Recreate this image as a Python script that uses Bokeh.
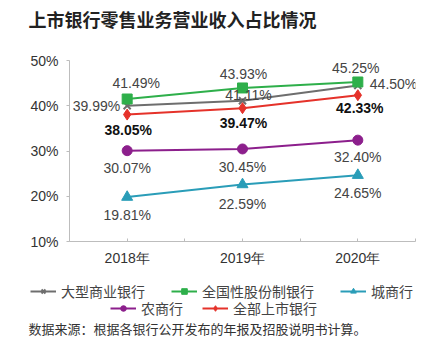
from bokeh.plotting import figure
from bokeh.models import (ColumnDataSource, Range1d, FixedTicker, Legend, LegendItem,
                          LabelSet, Label, Title)
from bokeh.core.properties import value
from bokeh.embed import file_html
from bokeh.resources import INLINE

years = ["2018年", "2019年", "2020年"]
big_banks = [39.99, 41.11, 44.50]
joint_stock = [41.49, 43.93, 45.25]
city_banks = [19.81, 22.59, 24.65]
rural_banks = [30.07, 30.45, 32.40]
all_listed = [38.05, 39.47, 42.33]
y_ticks = [10, 20, 30, 40, 50]
y_tick_labels = ["10%", "20%", "30%", "40%", "50%"]

names = ["大型商业银行", "全国性股份制银行", "城商行", "农商行", "全部上市银行"]
series = [big_banks, joint_stock, city_banks, rural_banks, all_listed]

colors = ["#6e6e6e", "#2eaf4a", "#2a9db8", "#8c1f8c", "#e5322a"]
markers = ["x", "square", "triangle", "circle", "diamond"]
msizes = [10, 10, 11, 10, 11]
lab_style = [
    dict(dx=[-7, 6, 12], dy=[0, 6, 1], align=["right", "center", "left"], bold=False),
    dict(dx=[9, 1, -2], dy=[16, 14, 14], align=["center"] * 3, bold=False),
    dict(dx=[0, 0, 0], dy=[-18, -19, -18], align=["center"] * 3, bold=False),
    dict(dx=[0, 0, 0], dy=[-17, -18, -17], align=["center"] * 3, bold=False),
    dict(dx=[1, 1, 2], dy=[-15, -15, -13], align=["center"] * 3, bold=True),
]

NUM_FONT = "Liberation Sans"
CJK_FONT = "Noto Sans CJK SC"
W = 430

p = figure(width=W, height=270, output_backend="svg", toolbar_location=None,
           x_range=Range1d(0, 3), y_range=Range1d(10, 50),
           min_border_left=69, min_border_right=15, min_border_top=60, min_border_bottom=29)
p.outline_line_color = None
p.grid.visible = False

xs = [i + 0.5 for i in range(len(years))]
sources = []
for vals, col, mk, ms, st in zip(series, colors, markers, msizes, lab_style):
    src = ColumnDataSource(dict(x=xs, y=vals, t=["%.2f%%" % v for v in vals],
                                dx=st["dx"], dy=st["dy"], al=st["align"]))
    sources.append(src)
    p.line("x", "y", source=src, line_color=col, line_width=2)
    p.scatter("x", "y", source=src, marker=mk, size=ms, fill_color=col,
              line_color=col, line_width=2 if mk == "x" else 1)
    p.add_layout(LabelSet(x="x", y="y", text="t", source=src, x_offset="dx", y_offset="dy",
                          text_align="al", text_baseline="middle", text_font=value(NUM_FONT),
                          text_font_size="14px",
                          text_color="#111111" if st["bold"] else "#444444",
                          text_font_style="bold" if st["bold"] else "normal"))

xa = p.xaxis[0]
xa.ticker = FixedTicker(ticks=xs, minor_ticks=[0, 1, 2, 3])
xa.major_label_overrides = {x: y for x, y in zip(xs, years)}
xa.axis_line_color = "#bdbdbd"
xa.major_tick_line_color = "#bdbdbd"
xa.minor_tick_line_color = "#bdbdbd"
xa.major_tick_in = 3
xa.major_tick_out = 0
xa.minor_tick_in = 3
xa.minor_tick_out = 0
xa.major_label_text_font = NUM_FONT
xa.major_label_text_font_size = "14px"
xa.major_label_text_color = "#333333"
xa.major_label_standoff = 8

ya = p.yaxis[0]
ya.ticker = FixedTicker(ticks=y_ticks, minor_ticks=[])
ya.major_label_overrides = {t: l for t, l in zip(y_ticks, y_tick_labels)}
ya.axis_line_color = "#bdbdbd"
ya.major_tick_line_color = "#bdbdbd"
ya.major_tick_in = 0
ya.major_tick_out = 3
ya.major_label_text_font = NUM_FONT
ya.major_label_text_font_size = "14px"
ya.major_label_text_color = "#333333"
ya.major_label_standoff = 8

p.add_layout(Title(text="上市银行零售业务营业收入占比情况", align="left", offset=-41,
                   text_font=CJK_FONT, text_font_size="18px", text_font_style="bold",
                   text_color="#222222", standoff=2, vertical_align="bottom",
                   padding=(0, 0, 0, 28)), "above")

# legend strip below the chart, a separate root (1 data unit = 1 px)
LH = 94
lf = figure(width=W, height=LH, output_backend="svg", toolbar_location=None,
            x_range=Range1d(0, W), y_range=Range1d(0, LH), x_axis_type=None, y_axis_type=None,
            min_border=0)
lf.outline_line_color = None
lf.grid.visible = False
items = []
for name, src, col, mk, ms in zip(names, sources, colors, markers, msizes):
    r1 = lf.line("x", "y", source=src, line_color=col, line_width=2, visible=False)
    r2 = lf.scatter("x", "y", source=src, marker=mk, size=ms - 3, fill_color=col,
                    line_color=col, line_width=2 if mk == "x" else 1, visible=False)
    items.append(LegendItem(label=name, renderers=[r1, r2]))

common = dict(orientation="horizontal", glyph_width=26, glyph_height=14, label_standoff=5,
              padding=0, margin=0, border_line_color=None, inactive_fill_alpha=0,
              background_fill_alpha=0, label_text_font=CJK_FONT,
              label_text_font_size="14px", label_text_color="#444444")
lf.add_layout(Legend(items=items[:3], location=(30, 63), spacing=26, **common))
lf.add_layout(Legend(items=items[3:], location=(110, 46), spacing=19, **common))
lf.add_layout(Label(x=28, y=36, text="数据来源：根据各银行公开发布的年报及招股说明书计算。",
                    text_font=CJK_FONT, text_font_size="13px", text_color="#333333",
                    text_baseline="middle", text_align="left"))

open("out.html", "w").write(file_html([p, lf], INLINE))
